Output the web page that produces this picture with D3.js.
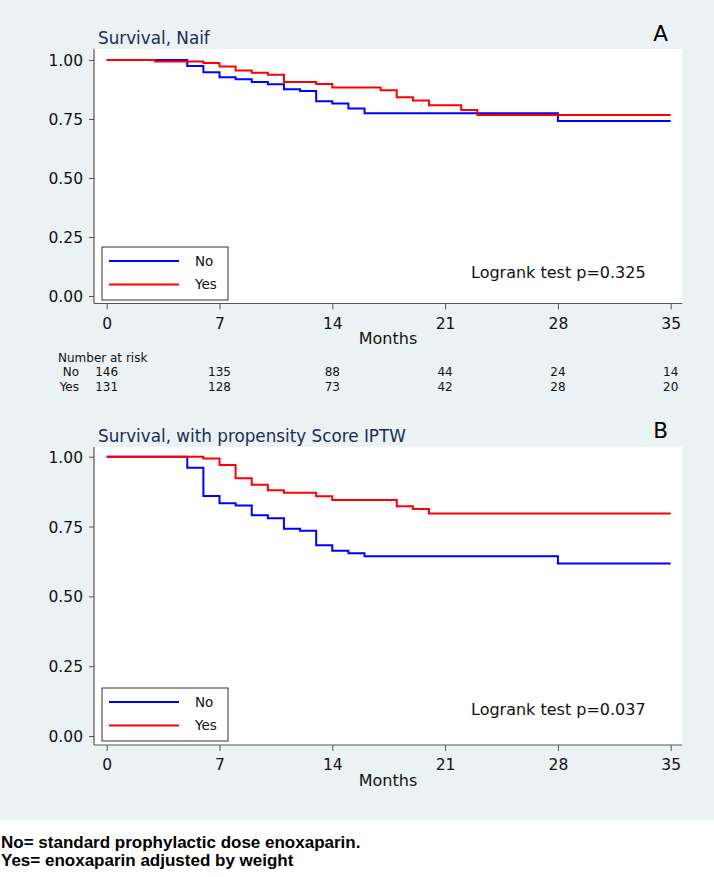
<!DOCTYPE html>
<html><head><meta charset="utf-8">
<script src="https://cdn.jsdelivr.net/npm/d3@7"></script>
<style>body{margin:0;background:#fff}svg{display:block}</style>
</head><body><svg id="chart" width="714" height="877"></svg>
<script>
// ---- data ----
const monthTicks = [0, 7, 14, 21, 28, 35];
const survTicks = [0, 0.25, 0.5, 0.75, 1];
const groupLabels = ["No", "Yes"];
const riskNo = [146, 135, 88, 44, 24, 14];
const riskYes = [131, 128, 73, 42, 28, 20];

const naifNoTime = [0, 5, 6, 7, 8, 9, 10, 11, 12, 13, 14, 15, 16, 28, 35];
const naifNoSurv = [1, 0.975, 0.948, 0.927, 0.918, 0.907, 0.897, 0.876, 0.869, 0.825, 0.816, 0.795, 0.774, 0.742, 0.742];
const naifYesTime = [0, 3, 6, 7, 8, 9, 10, 11, 13, 14, 17, 18, 19, 20, 22, 23, 35];
const naifYesSurv = [1, 0.994, 0.987, 0.972, 0.956, 0.946, 0.938, 0.907, 0.898, 0.884, 0.872, 0.842, 0.828, 0.808, 0.788, 0.767, 0.767];

const iptwNoTime = [0, 5, 6, 7, 8, 9, 10, 11, 12, 13, 14, 15, 16, 28, 35];
const iptwNoSurv = [1, 0.960, 0.859, 0.833, 0.825, 0.790, 0.780, 0.742, 0.735, 0.683, 0.663, 0.654, 0.644, 0.618, 0.618];
const iptwYesTime = [0, 6, 7, 8, 9, 10, 11, 13, 14, 18, 19, 20, 35];
const iptwYesSurv = [1, 0.994, 0.970, 0.923, 0.900, 0.880, 0.871, 0.858, 0.845, 0.823, 0.813, 0.797, 0.797];

const titles = ["Survival, Naif", "Survival, with propensity Score IPTW"];
const letters = ["A", "B"];
const pTexts = ["Logrank test p=0.325", "Logrank test p=0.037"];
const footnotes = ["No= standard prophylactic dose enoxaparin.", "Yes= enoxaparin adjusted by weight"];

// ---- drawing ----
const FONT = "DejaVu Sans, Liberation Sans, Arial, sans-serif";
const svg = d3.select("#chart");
svg.append("rect").attr("x", 0).attr("y", 0).attr("width", 714).attr("height", 820).attr("fill", "#eaf2f3");

const x = d3.scaleLinear().domain([0, 35]).range([106.7, 670.7]);
const plotLeft = 94, plotRight = 682;

const panels = [
  {top: 49, axisY: 303.5, yRange: [296, 60], titleY: 44, letterY: 40.7, legTop: 247, pY: 278,
   no: naifNoTime.map((t, i) => ({t, s: naifNoSurv[i]})), yes: naifYesTime.map((t, i) => ({t, s: naifYesSurv[i]}))},
  {top: 447, axisY: 745, yRange: [736, 456.7], titleY: 441.7, letterY: 438.3, legTop: 688, pY: 715,
   no: iptwNoTime.map((t, i) => ({t, s: iptwNoSurv[i]})), yes: iptwYesTime.map((t, i) => ({t, s: iptwYesSurv[i]}))}
];

panels.forEach((p, k) => {
  const g = svg.append("g");
  const y = d3.scaleLinear().domain([0, 1]).range(p.yRange);

  g.append("rect").attr("x", plotLeft).attr("y", p.top).attr("width", plotRight - plotLeft)
    .attr("height", p.axisY - p.top).attr("fill", "#fff");

  // titles
  g.append("text").attr("x", 98).attr("y", p.titleY).attr("font-family", FONT).attr("font-size", 16.8)
    .attr("fill", "#1c2d55").text(titles[k]);
  g.append("text").attr("x", 660.7).attr("y", p.letterY).attr("text-anchor", "middle").attr("font-family", FONT)
    .attr("font-size", 21.5).attr("fill", "#000").text(letters[k]);

  // y axis
  const ya = g.append("g").attr("transform", `translate(${plotLeft},0)`)
    .call(d3.axisLeft(y).tickValues(survTicks).tickFormat(d3.format(".2f")).tickSize(5).tickPadding(6));
  ya.select(".domain").remove();
  ya.selectAll("line").attr("stroke", "#555");
  ya.selectAll("text").attr("font-family", FONT).attr("font-size", 15.5).attr("fill", "#111").attr("dy", "0.36em");
  g.append("line").attr("x1", plotLeft).attr("x2", plotLeft).attr("y1", p.top).attr("y2", p.axisY)
    .attr("stroke", "#555").attr("stroke-width", 1.2);

  // x axis
  const xa = g.append("g").attr("transform", `translate(0,${p.axisY})`)
    .call(d3.axisBottom(x).tickValues(monthTicks).tickSize(6).tickPadding(8));
  xa.select(".domain").remove();
  xa.selectAll("line").attr("stroke", "#555");
  xa.selectAll("text").attr("font-family", FONT).attr("font-size", 15.5).attr("fill", "#111");
  g.append("line").attr("x1", plotLeft).attr("x2", plotRight).attr("y1", p.axisY).attr("y2", p.axisY)
    .attr("stroke", "#555").attr("stroke-width", 1.2);
  g.append("text").attr("x", (plotLeft + plotRight) / 2).attr("y", p.axisY + 40.5).attr("text-anchor", "middle")
    .attr("font-family", FONT).attr("font-size", 16).attr("fill", "#111").text("Months");

  // curves
  const line = d3.line().x(d => x(d.t)).y(d => y(d.s)).curve(d3.curveStepAfter);
  g.append("path").datum(p.no).attr("d", line).attr("fill", "none").attr("stroke", "#0000ff").attr("stroke-width", 2);
  g.append("path").datum(p.yes).attr("d", line).attr("fill", "none").attr("stroke", "#ff0000").attr("stroke-width", 2);

  // legend
  const lg = g.append("g");
  lg.append("rect").attr("x", 102).attr("y", p.legTop).attr("width", 126).attr("height", 53)
    .attr("fill", "#fff").attr("stroke", "#333").attr("stroke-width", 1);
  const colors = ["#0000ff", "#ff0000"];
  groupLabels.forEach((lab, i) => {
    const ly = p.legTop + 14 + i * 23.5;
    lg.append("line").attr("x1", 109).attr("x2", 179).attr("y1", ly).attr("y2", ly)
      .attr("stroke", colors[i]).attr("stroke-width", 2);
    lg.append("text").attr("x", 195).attr("y", ly + 4.9).attr("font-family", FONT).attr("font-size", 13.5)
      .attr("fill", "#111").text(lab);
  });

  g.append("text").attr("x", 471).attr("y", p.pY).attr("font-family", FONT).attr("font-size", 16)
    .attr("fill", "#111").text(pTexts[k]);

  // number at risk (panel A)
  if (k === 0) {
    const rg = g.append("g").attr("font-family", FONT).attr("font-size", 12).attr("fill", "#111");
    rg.append("text").attr("x", 58).attr("y", 362).text("Number at risk");
    [riskNo, riskYes].forEach((vals, i) => {
      const by = 375.7 + i * 15.3;
      rg.append("text").attr("x", 79).attr("y", by).attr("text-anchor", "end").text(groupLabels[i]);
      rg.selectAll(null).data(vals).enter().append("text")
        .attr("x", (d, j) => x(monthTicks[j])).attr("y", by).attr("text-anchor", "middle").text(d => d);
    });
  }
});

// footnotes
footnotes.forEach((t, i) => {
  svg.append("text").attr("x", 1).attr("y", 848.3 + i * 18).attr("font-family", "Liberation Sans, Arial, sans-serif")
    .attr("font-weight", "bold").attr("font-size", 17).attr("fill", "#000").text(t);
});
</script>
</body></html>
